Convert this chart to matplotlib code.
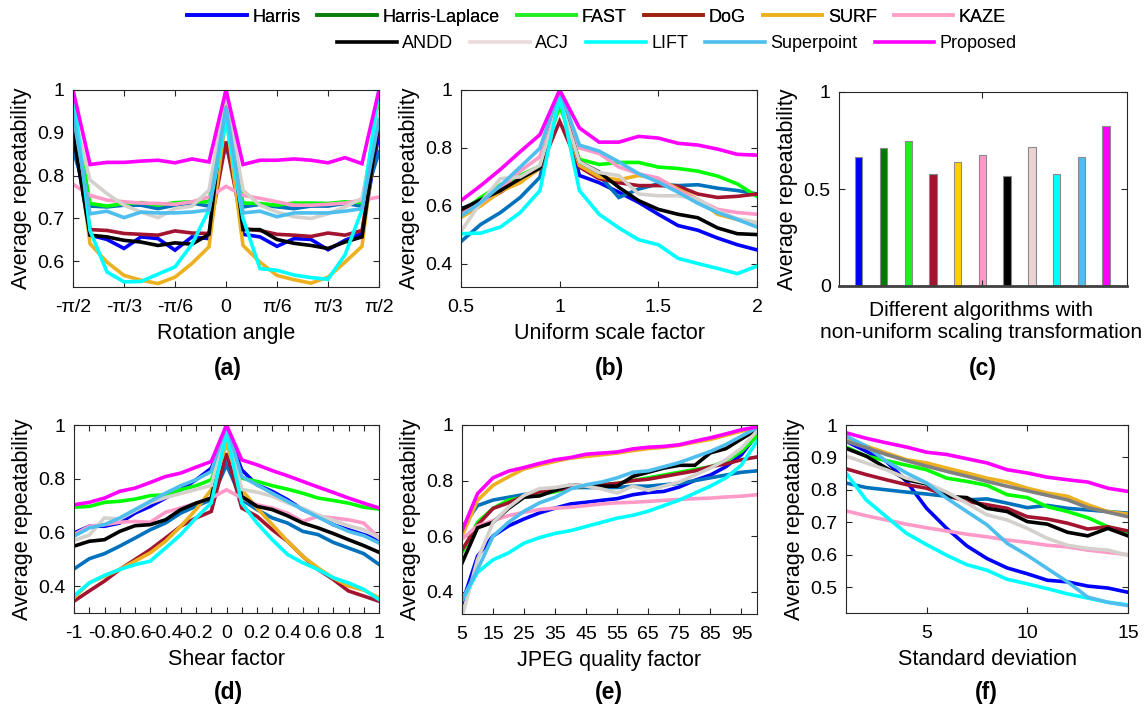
import numpy as np
import matplotlib.pyplot as plt
from matplotlib.lines import Line2D

plt.rcParams['font.family'] = ['Liberation Sans', 'DejaVu Sans']

methods = ['Harris', 'Harris-Laplace', 'FAST', 'DoG', 'SURF', 'KAZE',
           'ANDD', 'ACJ', 'LIFT', 'Superpoint', 'Proposed']
legend_colors = ['#0000FF', '#0B7D0B', '#22EE22', '#A0200F', '#EDB120', '#FFA0C8',
                 '#000000', '#EBDADA', '#00FFFF', '#4DBEEE', '#FF00FF']
line_colors = ['#0000FF', '#0072BD', '#00FF00', '#A2142F', '#EDB120', '#FF99C8',
               '#000000', '#D4D0CC', '#00FFFF', '#4DBEEE', '#FF00FF']
bar_colors = ['#0000FF', '#007A00', '#22EE22', '#A2142F', '#FFD000', '#FF99C8',
              '#000000', '#EBD3D3', '#00FFFF', '#4DBEEE', '#FF00FF']

# (a) rotation angle, degrees -90..90 step 10
a_x = np.arange(-90, 91, 10)
a_harris = [0.90, 0.661, 0.651, 0.630, 0.657, 0.653, 0.626, 0.657, 0.653, 0.98,
            0.663, 0.657, 0.635, 0.653, 0.651, 0.627, 0.649, 0.665, 0.90]
a_hl = [0.86, 0.729, 0.727, 0.731, 0.731, 0.723, 0.731, 0.736, 0.729, 0.871,
        0.727, 0.733, 0.727, 0.723, 0.729, 0.729, 0.735, 0.729, 0.855]
a_fast = [0.969, 0.735, 0.729, 0.735, 0.737, 0.731, 0.737, 0.739, 0.739, 0.97,
          0.736, 0.735, 0.731, 0.736, 0.736, 0.735, 0.739, 0.737, 0.965]
a_dog = [0.93, 0.674, 0.672, 0.665, 0.663, 0.661, 0.671, 0.666, 0.665, 0.88,
         0.676, 0.672, 0.663, 0.661, 0.658, 0.666, 0.661, 0.672, 0.92]
a_surf = [0.95, 0.641, 0.598, 0.567, 0.556, 0.548, 0.563, 0.595, 0.634, 0.94,
          0.637, 0.598, 0.567, 0.557, 0.549, 0.563, 0.598, 0.635, 0.95]
a_kaze = [0.78, 0.754, 0.743, 0.739, 0.736, 0.735, 0.733, 0.739, 0.750, 0.775,
          0.754, 0.747, 0.739, 0.731, 0.731, 0.733, 0.736, 0.743, 0.750]
a_andd = [0.90, 0.661, 0.657, 0.649, 0.645, 0.637, 0.643, 0.640, 0.663, 1.0,
          0.674, 0.674, 0.651, 0.642, 0.637, 0.630, 0.645, 0.657, 0.93]
a_acj = [0.95, 0.790, 0.758, 0.731, 0.715, 0.702, 0.723, 0.729, 0.766, 0.99,
         0.766, 0.731, 0.715, 0.704, 0.700, 0.711, 0.727, 0.747, 0.95]
a_lift = [1.0, 0.672, 0.575, 0.552, 0.553, 0.570, 0.587, 0.640, 0.720, 0.93,
          0.700, 0.583, 0.579, 0.568, 0.562, 0.558, 0.615, 0.720, 1.0]
a_sp = [0.945, 0.711, 0.717, 0.702, 0.715, 0.713, 0.713, 0.715, 0.720, 0.96,
        0.713, 0.717, 0.704, 0.713, 0.713, 0.713, 0.717, 0.723, 0.93]
a_prop = [1.0, 0.826, 0.831, 0.831, 0.834, 0.836, 0.830, 0.839, 0.832, 1.0,
          0.826, 0.836, 0.836, 0.839, 0.836, 0.830, 0.842, 0.828, 1.0]

# (b) uniform scale factor 0.5..2.0
b_x = np.round(np.arange(0.5, 2.01, 0.1), 1)
b_harris = [0.59, 0.615, 0.65, 0.69, 0.73, 0.97, 0.705, 0.68, 0.647, 0.612,
            0.571, 0.532, 0.516, 0.489, 0.466, 0.448]
b_hl = [0.477, 0.536, 0.577, 0.629, 0.699, 0.98, 0.74, 0.705, 0.629, 0.658,
        0.676, 0.67, 0.673, 0.661, 0.653, 0.641]
b_fast = [0.577, 0.629, 0.673, 0.705, 0.738, 0.945, 0.761, 0.743, 0.75, 0.75,
          0.734, 0.729, 0.72, 0.703, 0.676, 0.633]
b_dog = [0.582, 0.612, 0.647, 0.694, 0.729, 0.892, 0.734, 0.694, 0.68, 0.67,
         0.67, 0.668, 0.641, 0.629, 0.633, 0.641]
b_surf = [0.56, 0.60, 0.65, 0.68, 0.73, 0.97, 0.74, 0.70, 0.69, 0.705,
          0.694, 0.658, 0.623, 0.571, 0.553, 0.542]
b_kaze = [0.57, 0.61, 0.66, 0.72, 0.77, 0.98, 0.80, 0.781, 0.734, 0.711,
          0.696, 0.653, 0.621, 0.588, 0.577, 0.571]
b_andd = [0.588, 0.621, 0.653, 0.694, 0.731, 0.974, 0.752, 0.717, 0.664, 0.618,
          0.588, 0.571, 0.559, 0.524, 0.504, 0.501]
b_acj = [0.512, 0.612, 0.694, 0.70, 0.74, 0.97, 0.752, 0.715, 0.705, 0.641,
         0.635, 0.635, 0.623, 0.582, 0.556, 0.542]
b_lift = [0.504, 0.506, 0.527, 0.577, 0.653, 0.98, 0.653, 0.571, 0.524, 0.483,
          0.466, 0.419, 0.401, 0.384, 0.366, 0.392]
b_sp = [0.565, 0.612, 0.67, 0.734, 0.799, 1.0, 0.81, 0.789, 0.752, 0.711,
        0.682, 0.647, 0.609, 0.577, 0.553, 0.527]
b_prop = [0.618, 0.67, 0.726, 0.787, 0.846, 1.0, 0.869, 0.82, 0.82, 0.84,
          0.834, 0.816, 0.81, 0.796, 0.778, 0.775]

# (c) non-uniform scaling, one value per algorithm
c_values = [0.665, 0.712, 0.747, 0.576, 0.641, 0.677, 0.566, 0.719, 0.576, 0.667, 0.823]

# (d) shear factor -1..1
d_x = np.round(np.arange(-1.0, 1.01, 0.1), 1) + 0.0
d_harris = [0.598, 0.623, 0.623, 0.635, 0.672, 0.697, 0.728, 0.759, 0.796, 0.839, 0.98,
            0.833, 0.777, 0.753, 0.722, 0.685, 0.66, 0.629, 0.61, 0.592, 0.573]
d_hl = [0.464, 0.502, 0.521, 0.549, 0.579, 0.61, 0.635, 0.672, 0.697, 0.722, 0.852,
        0.722, 0.685, 0.654, 0.635, 0.604, 0.592, 0.563, 0.542, 0.521, 0.481]
d_fast = [0.694, 0.697, 0.712, 0.716, 0.724, 0.737, 0.74, 0.759, 0.774, 0.796, 0.944,
          0.802, 0.79, 0.774, 0.761, 0.746, 0.728, 0.719, 0.709, 0.694, 0.687]
d_dog = [0.344, 0.382, 0.419, 0.462, 0.499, 0.536, 0.579, 0.623, 0.654, 0.678, 0.895,
         0.691, 0.66, 0.61, 0.567, 0.511, 0.462, 0.425, 0.382, 0.363, 0.344]
d_surf = [0.357, 0.412, 0.437, 0.462, 0.493, 0.524, 0.567, 0.623, 0.685, 0.759, 0.93,
          0.759, 0.691, 0.629, 0.567, 0.511, 0.468, 0.431, 0.40, 0.385, 0.357]
d_kaze = [0.592, 0.623, 0.629, 0.638, 0.641, 0.638, 0.675, 0.691, 0.709, 0.728, 0.759,
          0.728, 0.703, 0.691, 0.672, 0.641, 0.66, 0.654, 0.647, 0.635, 0.579]
d_andd = [0.549, 0.567, 0.573, 0.604, 0.625, 0.629, 0.647, 0.685, 0.709, 0.728, 0.981,
          0.734, 0.697, 0.685, 0.662, 0.635, 0.617, 0.596, 0.573, 0.551, 0.526]
d_acj = [0.57, 0.59, 0.654, 0.65, 0.68, 0.71, 0.73, 0.745, 0.76, 0.775, 0.99,
         0.76, 0.75, 0.735, 0.71, 0.69, 0.665, 0.645, 0.625, 0.61, 0.58]
d_lift = [0.363, 0.412, 0.44, 0.462, 0.48, 0.493, 0.542, 0.592, 0.654, 0.709, 0.97,
          0.709, 0.635, 0.573, 0.518, 0.487, 0.462, 0.431, 0.412, 0.388, 0.35]
d_sp = [0.586, 0.617, 0.629, 0.654, 0.685, 0.716, 0.746, 0.774, 0.796, 0.827, 1.0,
        0.808, 0.777, 0.746, 0.716, 0.685, 0.657, 0.629, 0.604, 0.588, 0.561]
d_prop = [0.703, 0.712, 0.728, 0.753, 0.765, 0.786, 0.808, 0.821, 0.843, 0.864, 1.0,
          0.87, 0.852, 0.83, 0.811, 0.79, 0.769, 0.749, 0.728, 0.709, 0.691]

# (e) JPEG quality factor 5..100
e_x = np.arange(5, 101, 5)
e_harris = [0.357, 0.528, 0.601, 0.637, 0.662, 0.684, 0.701, 0.716, 0.722, 0.729,
            0.735, 0.749, 0.757, 0.761, 0.777, 0.801, 0.82, 0.85, 0.893, 0.966]
e_hl = [0.63, 0.71, 0.73, 0.74, 0.75, 0.755, 0.765, 0.775, 0.775, 0.775,
        0.775, 0.78, 0.78, 0.785, 0.79, 0.80, 0.81, 0.82, 0.83, 0.835]
e_fast = [0.54, 0.65, 0.70, 0.73, 0.74, 0.75, 0.76, 0.775, 0.78, 0.785,
          0.79, 0.80, 0.81, 0.82, 0.83, 0.84, 0.85, 0.87, 0.905, 0.96]
e_dog = [0.55, 0.64, 0.70, 0.72, 0.745, 0.76, 0.765, 0.775, 0.78, 0.785,
         0.79, 0.80, 0.805, 0.815, 0.825, 0.835, 0.85, 0.86, 0.875, 0.885]
e_surf = [0.60, 0.729, 0.783, 0.814, 0.842, 0.856, 0.869, 0.881, 0.887, 0.893,
          0.899, 0.908, 0.915, 0.92, 0.927, 0.938, 0.948, 0.963, 0.978, 0.99]
e_kaze = [0.589, 0.637, 0.656, 0.674, 0.686, 0.696, 0.701, 0.704, 0.71, 0.716,
          0.72, 0.722, 0.725, 0.729, 0.732, 0.735, 0.737, 0.741, 0.744, 0.749]
e_andd = [0.503, 0.63, 0.65, 0.70, 0.74, 0.745, 0.765, 0.785, 0.78, 0.78,
          0.78, 0.815, 0.83, 0.845, 0.855, 0.855, 0.90, 0.915, 0.95, 0.984]
e_acj = [0.31, 0.516, 0.649, 0.704, 0.747, 0.771, 0.775, 0.785, 0.78, 0.77,
         0.755, 0.78, 0.765, 0.78, 0.795, 0.82, 0.845, 0.875, 0.917, 0.978]
e_lift = [0.369, 0.47, 0.515, 0.54, 0.575, 0.595, 0.61, 0.62, 0.635, 0.65,
          0.665, 0.675, 0.69, 0.71, 0.73, 0.755, 0.78, 0.81, 0.856, 0.942]
e_sp = [0.37, 0.48, 0.60, 0.65, 0.69, 0.72, 0.74, 0.77, 0.785, 0.795,
        0.81, 0.83, 0.835, 0.85, 0.865, 0.885, 0.905, 0.93, 0.96, 0.99]
e_prop = [0.619, 0.753, 0.81, 0.834, 0.847, 0.862, 0.875, 0.883, 0.895, 0.899,
          0.903, 0.914, 0.92, 0.923, 0.929, 0.942, 0.954, 0.968, 0.983, 0.993]

# (f) noise standard deviation 1..15
f_x = np.arange(1, 16)
f_harris = [0.95, 0.919, 0.888, 0.826, 0.743, 0.681, 0.627, 0.588, 0.559, 0.541,
            0.521, 0.516, 0.503, 0.497, 0.484]
f_hl = [0.821, 0.807, 0.80, 0.793, 0.787, 0.78, 0.769, 0.772, 0.759, 0.745,
        0.752, 0.743, 0.738, 0.733, 0.728]
f_fast = [0.932, 0.904, 0.89, 0.876, 0.862, 0.836, 0.826, 0.814, 0.785, 0.776,
          0.748, 0.733, 0.714, 0.686, 0.669]
f_dog = [0.865, 0.847, 0.831, 0.816, 0.805, 0.783, 0.764, 0.754, 0.743, 0.717,
         0.71, 0.697, 0.679, 0.686, 0.673]
f_surf = [0.955, 0.935, 0.914, 0.893, 0.883, 0.867, 0.852, 0.836, 0.824, 0.805,
          0.79, 0.78, 0.754, 0.733, 0.725]
f_kaze = [0.735, 0.72, 0.707, 0.694, 0.683, 0.673, 0.663, 0.655, 0.645, 0.638,
          0.629, 0.624, 0.614, 0.607, 0.60]
f_andd = [0.928, 0.904, 0.867, 0.831, 0.818, 0.78, 0.776, 0.743, 0.733, 0.702,
          0.694, 0.669, 0.658, 0.681, 0.658]
f_acj = [0.904, 0.883, 0.862, 0.836, 0.821, 0.793, 0.759, 0.723, 0.707, 0.681,
         0.65, 0.629, 0.619, 0.614, 0.598]
f_lift = [0.852, 0.769, 0.717, 0.666, 0.631, 0.598, 0.569, 0.552, 0.524, 0.51,
          0.495, 0.479, 0.466, 0.453, 0.445]
f_sp = [0.966, 0.935, 0.888, 0.852, 0.821, 0.774, 0.733, 0.692, 0.635, 0.598,
        0.557, 0.516, 0.469, 0.453, 0.443]
f_prop = [0.976, 0.959, 0.945, 0.932, 0.916, 0.909, 0.896, 0.883, 0.862, 0.852,
          0.839, 0.831, 0.824, 0.805, 0.795]
f_gray = [0.95, 0.93, 0.909, 0.89, 0.873, 0.857, 0.842, 0.826, 0.811, 0.797,
          0.783, 0.769, 0.745, 0.731, 0.717]

W, H = 1148, 718
LABEL_FS = 15.5
TICK_FS = 14
fig = plt.figure(figsize=(W / 100, H / 100), dpi=100)


def box(l, r, t, b):
    return [l / W, 1 - b / H, (r - l) / W, (b - t) / H]


def style(ax):
    ax.tick_params(direction='in', top=True, right=True, labelsize=TICK_FS,
                   length=4, width=0.8, color='#262626')
    ax.tick_params(axis='x', pad=8.5)
    ax.tick_params(axis='y', pad=6)
    for s in ax.spines.values():
        s.set_color('#262626')
        s.set_linewidth(0.8)


def lines(ax, x, series, extra=None):
    for ys, c in zip(series, line_colors):
        ax.plot(x, ys, color=c, lw=2.6, solid_joinstyle='miter')
    if extra is not None:
        ax.plot(x, extra, color='#808080', lw=2.6)


def fmt(v):
    return '%g' % (v + 0.0)


def finish(ax, xlabel):
    ax.set_xlabel(xlabel, fontsize=LABEL_FS, labelpad=5)
    ax.set_ylabel('Average repeatability', fontsize=LABEL_FS, labelpad=4)
    style(ax)


# (a)
ax = fig.add_axes(box(73, 379, 90, 287))
lines(ax, a_x, [a_harris, a_hl, a_fast, a_dog, a_surf, a_kaze,
                a_andd, a_acj, a_lift, a_sp, a_prop])
ax.set_xlim(-90, 90)
ax.set_ylim(0.54, 1)
ax.set_xticks([-90, -60, -30, 0, 30, 60, 90])
ax.set_xticklabels(['-π/2', '-π/3', '-π/6', '0', 'π/6', 'π/3', 'π/2'])
yt = [0.6, 0.7, 0.8, 0.9, 1.0]
ax.set_yticks(yt)
ax.set_yticklabels([fmt(v) for v in yt])
finish(ax, 'Rotation angle')

# (b)
ax = fig.add_axes(box(461, 757, 90, 287))
lines(ax, b_x, [b_harris, b_hl, b_fast, b_dog, b_surf, b_kaze,
                b_andd, b_acj, b_lift, b_sp, b_prop])
ax.set_xlim(0.5, 2)
ax.set_ylim(0.32, 1)
ax.set_xticks([0.5, 1, 1.5, 2])
ax.set_xticklabels(['0.5', '1', '1.5', '2'])
yt = [0.4, 0.6, 0.8, 1.0]
ax.set_yticks(yt)
ax.set_yticklabels([fmt(v) for v in yt])
finish(ax, 'Uniform scale factor')

# (c)
ax = fig.add_axes(box(839, 1127, 92, 286))
pos = np.arange(1, len(methods) + 1)
ax.bar(pos, c_values, width=0.3, color=bar_colors, edgecolor='#8a8a8a', linewidth=0.8)
ax.set_xlim(0.2, 11.85)
ax.set_ylim(0, 1)
ax.set_xticks([6])
ax.set_xticklabels([''])
ax.set_yticks([0, 0.5, 1])
ax.set_yticklabels(['0', '0.5', '1'])
ax.set_ylabel('Average repeatability', fontsize=LABEL_FS, labelpad=4)
style(ax)
ax.spines['bottom'].set_linewidth(2)
ax.spines['bottom'].set_color('#404040')
fig.text(981 / W, 1 - 321 / H,
         'Different algorithms with\nnon-uniform scaling transformation',
         fontsize=15, ha='center', va='center', linespacing=1.2)

# (d)
ax = fig.add_axes(box(74, 379, 425, 613))
lines(ax, d_x, [d_harris, d_hl, d_fast, d_dog, d_surf, d_kaze,
                d_andd, d_acj, d_lift, d_sp, d_prop])
ax.set_xlim(-1, 1)
ax.set_ylim(0.3, 1)
ax.set_xticks(d_x)
ax.set_xticklabels([fmt(v) if round(v * 10) % 2 == 0 else '' for v in d_x])
yt = [0.4, 0.6, 0.8, 1.0]
ax.set_yticks(yt)
ax.set_yticklabels([fmt(v) for v in yt])
finish(ax, 'Shear factor')

# (e)
ax = fig.add_axes(box(462, 757, 425, 614))
lines(ax, e_x, [e_harris, e_hl, e_fast, e_dog, e_surf, e_kaze,
                e_andd, e_acj, e_lift, e_sp, e_prop])
ax.set_xlim(5, 100)
ax.set_ylim(0.32, 1)
ax.set_xticks(np.arange(5, 100, 10))
yt = [0.4, 0.6, 0.8, 1.0]
ax.set_yticks(yt)
ax.set_yticklabels([fmt(v) for v in yt])
finish(ax, 'JPEG quality factor')

# (f)
ax = fig.add_axes(box(846, 1128, 425, 613))
lines(ax, f_x, [f_harris, f_hl, f_fast, f_dog, f_surf, f_kaze,
                f_andd, f_acj, f_lift, f_sp, f_prop], extra=f_gray)
ax.set_xlim(1, 15)
ax.set_ylim(0.42, 1)
ax.set_xticks([5, 10, 15])
yt = [0.5, 0.6, 0.7, 0.8, 0.9, 1.0]
ax.set_yticks(yt)
ax.set_yticklabels([fmt(v) for v in yt])
finish(ax, 'Standard deviation')

for lab, cx, cy in [('(a)', 228, 368), ('(b)', 609, 368), ('(c)', 983, 368),
                    ('(d)', 228, 692), ('(e)', 609, 692), ('(f)', 986, 692)]:
    fig.text(cx / W, 1 - cy / H, lab, fontsize=16.5, fontweight='bold',
             ha='center', va='center')

handles = [Line2D([], [], color=c, lw=2.6) for c in legend_colors]
common = dict(frameon=False, loc='center left', fontsize=13,
              handlelength=3.3, handletextpad=0.3, columnspacing=0.95,
              borderpad=0, borderaxespad=0)
leg1 = fig.legend(handles[:6], methods[:6], ncol=6,
                  bbox_to_anchor=(187 / W, 1 - 17 / H), **common)
fig.add_artist(leg1)
fig.legend(handles[6:], methods[6:], ncol=5,
           bbox_to_anchor=(337 / W, 1 - 44 / H), **common)

fig.savefig('out.png', dpi=100)
